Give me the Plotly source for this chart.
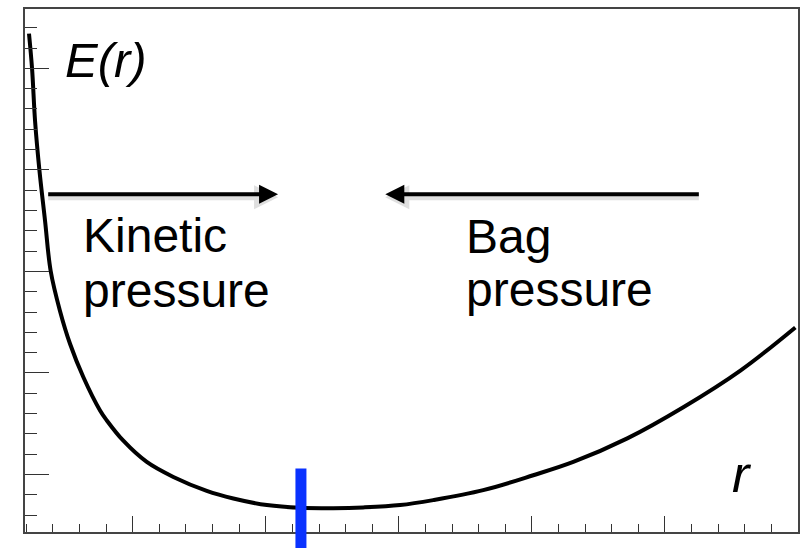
import plotly.graph_objects as go

# --- data (arbitrary units; 1 major tick = 1 unit) ---
r_vals = [0.220, 0.243, 0.266, 0.298, 0.341, 0.383, 0.453, 0.529, 0.629, 0.754,
          0.805, 0.929, 1.105, 1.305, 1.556, 1.756, 2.008, 2.258, 2.506, 2.732,
          3.010, 3.258, 3.634, 4.010, 4.311, 4.717, 5.138, 5.567, 5.980]
E_vals = [4.343, 3.999, 3.476, 3.002, 2.495, 2.004, 1.611, 1.285, 0.957, 0.630,
          0.532, 0.332, 0.123, -0.025, -0.162, -0.237, -0.302, -0.329, -0.332, -0.325,
          -0.302, -0.253, -0.155, -0.008, 0.123, 0.355, 0.662, 1.023, 1.448]
r_eq = 2.264          # position of the blue marker (equilibrium radius)
r_eq_top = 0.058      # top of the blue marker in E units
x_range = [0.19, 6.0]
y_range = [-0.567, 4.585]

W, H = 808, 548
ML, MR, MT, MB = 25, 10, 7, 16

fig = go.Figure()
fig.add_trace(go.Scatter(x=r_vals, y=E_vals, mode="lines",
                         line=dict(color="black", width=4, shape="spline", smoothing=1.0),
                         hoverinfo="skip", showlegend=False))

axis_common = dict(showline=True, mirror=True, linecolor="#444", linewidth=1.5,
                   showgrid=False, zeroline=False, showticklabels=False,
                   ticks="inside", tickcolor="#333", tickwidth=1.3, tick0=0, dtick=1)
fig.update_xaxes(range=x_range, ticklen=16,
                 minor=dict(ticks="inside", ticklen=8, dtick=0.2, tick0=0,
                            tickcolor="#333", tickwidth=1.3, showgrid=False),
                 **axis_common)
fig.update_yaxes(range=y_range, ticklen=24,
                 minor=dict(ticks="inside", ticklen=12, dtick=0.2, tick0=0,
                            tickcolor="#333", tickwidth=1.3, showgrid=False),
                 **axis_common)

# blue equilibrium marker, extends below the axis
top_paper = (r_eq_top - y_range[0]) / (y_range[1] - y_range[0])
fig.add_shape(type="line", xref="x", yref="paper", x0=r_eq, x1=r_eq,
              y0=-0.06, y1=top_paper, line=dict(color="#0a32ff", width=11), layer="above")

# arrows (with a faint drop shadow)
arrow_y = 2.76
shadow_dy = 0.03
for (tail, head) in [(0.353, 2.092), (5.266, 2.898)]:
    fig.add_annotation(x=head, y=arrow_y - shadow_dy, ax=tail, ay=arrow_y - shadow_dy,
                       xref="x", yref="y", axref="x", ayref="y", text="", showarrow=True,
                       arrowhead=2, arrowsize=0.8, arrowwidth=6,
                       arrowcolor="rgba(0,0,0,0.12)")
    fig.add_annotation(x=head, y=arrow_y, ax=tail, ay=arrow_y, xref="x", yref="y",
                       axref="x", ayref="y", text="", showarrow=True,
                       arrowhead=2, arrowsize=0.95, arrowwidth=4, arrowcolor="black")

family = "Liberation Sans, Arial, sans-serif"

def px_to_paper(px, py):
    return (px - ML) / (W - ML - MR), (H - MB - py) / (H - MT - MB)

labels = [("Kinetic", 82, 234, 48),
          ("pressure", 82, 290, 48),
          ("Bag", 465, 235, 48),
          ("pressure", 465, 288.5, 48),
          ("<i>E(r)</i>", 64, 58, 49),
          ("<i>r</i>", 731, 474, 52)]
for text, px, py, fs in labels:
    xp, yp = px_to_paper(px, py)
    fig.add_annotation(x=xp, y=yp, xref="paper", yref="paper", text=text,
                       showarrow=False, xanchor="left", yanchor="middle",
                       font=dict(family=family, size=fs, color="black"),
                       borderpad=0)

fig.update_layout(width=W, height=H, margin=dict(l=ML, r=MR, t=MT, b=MB),
                  paper_bgcolor="white", plot_bgcolor="white", showlegend=False)

fig.write_html("out.html")
